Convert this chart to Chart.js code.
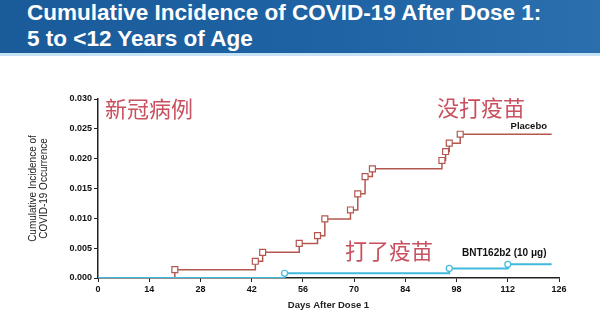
<!DOCTYPE html>
<html>
<head>
<meta charset="utf-8">
<title>Cumulative Incidence of COVID-19 After Dose 1</title>
<script src="https://cdn.jsdelivr.net/npm/chart.js@4.4.0/dist/chart.umd.min.js"></script>
<style>
    body {
        margin: 0;
        width: 600px;
        height: 321px;
        overflow: hidden;
        position: relative;
        background: #fff;
        font-family: "Liberation Sans", Arial, sans-serif;
    }
    #banner {
        position: absolute;
        left: 0;
        top: 0;
        width: 600px;
        height: 53px;
        background: linear-gradient(90deg, #1a5b9a 0%, #1f63a4 55%, #2b6fae 100%);
        border-bottom: 3px solid #c4e2f4;
        z-index: 2;
    }
    #banner h1 {
        margin: 0;
        position: absolute;
        left: 27px;
        top: 0;
        color: #fff;
        font-size: 22.5px;
        line-height: 26px;
        font-weight: bold;
    }
    #wrap {
        position: absolute;
        left: 0;
        top: 0;
        width: 600px;
        height: 321px;
    }
</style>
</head>
<body>
<div id="banner"><h1>Cumulative Incidence of COVID-19 After Dose 1:<br>5 to &lt;12 Years of Age</h1></div>
<div id="wrap"><canvas id="chart" width="600" height="321"></canvas></div>

<script>
    // Kaplan-Meier style steps
    const placeboDays = [0, 21, 43, 45, 55, 60, 62, 69, 71, 73, 75, 94, 95, 96, 99, 124];
    const placeboValues = [0, 0.0014, 0.0028, 0.0043, 0.0058, 0.0071, 0.0099, 0.0114, 0.0141, 0.0170, 0.0183,
        0.0197, 0.0212, 0.0226, 0.0241, 0.0241];

    const vaccineDays = [0, 51, 96, 112, 124];
    const vaccineValues = [0, 0.0008, 0.0016, 0.0023, 0.0023];

    const xTicks = [0, 14, 28, 42, 56, 70, 84, 98, 112, 126];
    const yTicks = [0, 0.005, 0.010, 0.015, 0.020, 0.025, 0.030];

    const placeboColor = '#b3574f';
    const vaccineColor = '#3fb9dd';
    const pink = '#c9505e';

    function toPoints(days, values) {
        return days.map((d, i) => ({x: d, y: values[i]}));
    }

    // no marker on the first and last point of each curve
    function markerRadius(r) {
        return ctx => (ctx.dataIndex === 0 || ctx.dataIndex === ctx.dataset.data.length - 1) ? 0 : r;
    }

    // texts written on the slide
    const notes = [
        {text: '新冠病例', x: 105, y: 109, font: '22px "Noto Sans CJK SC"', color: pink, align: 'left'},
        {text: '没打疫苗', x: 437, y: 108, font: '22px "Noto Sans CJK SC"', color: pink, align: 'left'},
        {text: '打了疫苗', x: 345, y: 251, font: '22px "Noto Sans CJK SC"', color: pink, align: 'left'},
        {text: 'Placebo', x: 547, y: 126, font: 'bold 9.5px "Liberation Sans"', color: '#111', align: 'right'},
        {text: 'BNT162b2 (10 μg)', x: 462, y: 253, font: 'bold 10px "Liberation Sans"', color: '#111', align: 'left'}
    ];

    const notePlugin = {
        id: 'notes',
        afterDraw(chart) {
            const ctx = chart.ctx;
            ctx.save();
            ctx.textBaseline = 'middle';
            notes.forEach(n => {
                ctx.font = n.font;
                ctx.fillStyle = n.color;
                ctx.textAlign = n.align;
                ctx.fillText(n.text, n.x, n.y);
            });
            ctx.restore();
        }
    };

    const tickFont = {family: '"Liberation Sans", Arial, sans-serif', size: 9, weight: 'bold'};

    new Chart(document.getElementById('chart'), {
        type: 'line',
        data: {
            datasets: [{
                    label: 'BNT162b2 (10 μg)',
                    data: toPoints(vaccineDays, vaccineValues),
                    stepped: true,
                    borderColor: vaccineColor,
                    borderWidth: 2,
                    pointStyle: 'circle',
                    pointRadius: markerRadius(3),
                    pointBorderColor: vaccineColor,
                    pointBackgroundColor: '#ffffff',
                    pointBorderWidth: 1.2
                }, {
                    label: 'Placebo',
                    data: toPoints(placeboDays, placeboValues),
                    stepped: true,
                    borderColor: placeboColor,
                    borderWidth: 1.5,
                    pointStyle: 'rect',
                    pointRadius: markerRadius(4.2),
                    pointBorderColor: placeboColor,
                    pointBackgroundColor: '#ffffff',
                    pointBorderWidth: 1.2
                }]
        },
        options: {
            responsive: false,
            animation: false,
            events: [],
            layout: {
                padding: {top: 99, right: 41, left: 0, bottom: 0}
            },
            plugins: {
                legend: {display: false},
                tooltip: {enabled: false}
            },
            scales: {
                x: {
                    type: 'linear',
                    min: 0,
                    max: 126,
                    afterFit: scale => { scale.height = 43; },
                    afterBuildTicks: scale => { scale.ticks = xTicks.map(v => ({value: v})); },
                    grid: {drawOnChartArea: false, drawTicks: true, tickLength: 4, color: '#222', lineWidth: 1},
                    border: {color: '#222', width: 1.5},
                    ticks: {color: '#111', font: tickFont, padding: 2, maxRotation: 0},
                    title: {
                        display: true,
                        text: 'Days After Dose 1',
                        color: '#222',
                        font: {family: '"Liberation Sans", Arial, sans-serif', size: 9.5, weight: 'bold'},
                        padding: {top: 0, bottom: 10}
                    }
                },
                y: {
                    min: 0,
                    max: 0.030,
                    afterFit: scale => { scale.width = 98; },
                    afterBuildTicks: scale => { scale.ticks = yTicks.map(v => ({value: v})); },
                    grid: {drawOnChartArea: false, drawTicks: true, tickLength: 4, color: '#222', lineWidth: 1},
                    border: {color: '#222', width: 1.5},
                    ticks: {
                        color: '#111',
                        font: tickFont,
                        padding: 2,
                        callback: v => v.toFixed(3)
                    },
                    title: {
                        display: true,
                        text: ['Cumulative Incidence of', 'COVID-19 Occurrence'],
                        color: '#222',
                        font: {family: '"Liberation Sans", Arial, sans-serif', size: 10, lineHeight: 1.1},
                        padding: {top: 28, bottom: 0}
                    }
                }
            }
        },
        plugins: [notePlugin]
    });
</script>
</body>
</html>
